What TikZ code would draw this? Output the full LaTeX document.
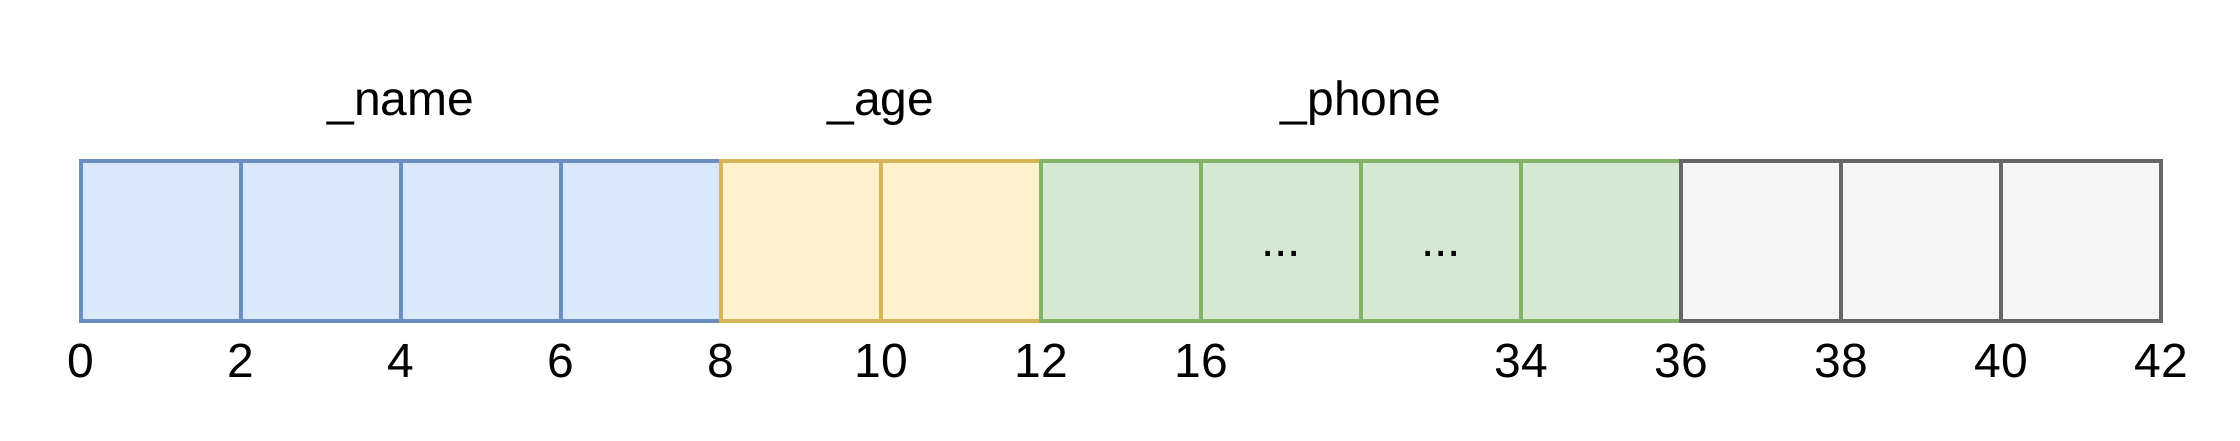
\documentclass[tikz,border=0pt]{standalone}
\usepackage{fontspec}
\setmainfont{Liberation Sans}
\definecolor{bfill}{HTML}{DAE8FC}\definecolor{bline}{HTML}{6C8EBF}
\definecolor{yfill}{HTML}{FFF2CC}\definecolor{yline}{HTML}{D6B656}
\definecolor{gfill}{HTML}{D5E8D4}\definecolor{gline}{HTML}{82B366}
\definecolor{kfill}{HTML}{F5F5F5}\definecolor{kline}{HTML}{666666}
\begin{document}
\begin{tikzpicture}[x=0.5pt,y=-0.5pt,
  cell/.style={draw, line width=2pt, minimum width=80pt, minimum height=80pt,
    inner sep=0pt, outer sep=0pt, font=\fontsize{24}{28}\selectfont},
  bluecell/.style={cell, fill=bfill, draw=bline},
  yellowcell/.style={cell, fill=yfill, draw=yline},
  greencell/.style={cell, fill=gfill, draw=gline},
  greycell/.style={cell, fill=kfill, draw=kline},
  lbl/.style={anchor=base, inner sep=0pt, font=\fontsize{24}{28}\selectfont}]
\useasboundingbox (0,0) rectangle (2240,440);
% cells
\node[bluecell]   (c0)  at (161,241) {};
\node[bluecell]   (c1)  at (321,241) {};
\node[bluecell]   (c2)  at (481,241) {};
\node[bluecell]   (c3)  at (641,241) {};
\node[yellowcell] (c4)  at (801,241) {};
\node[yellowcell] (c5)  at (961,241) {};
\node[greencell]  (c6)  at (1121,241) {};
\node[greencell]  (c7)  at (1281,241) {};
\node[greencell]  (c8)  at (1441,241) {};
\node[greencell]  (c9)  at (1601,241) {};
\node[greycell]   (c10) at (1761,241) {};
\node[greycell]   (c11) at (1921,241) {};
\node[greycell]   (c12) at (2081,241) {};
% dots
\node[lbl] (d7) at (1281,256) {...};
\node[lbl] (d8) at (1441,256) {...};
% field labels
\node[lbl] (fname)  at (401,115)  {\_name};
\node[lbl] (fage)   at (881,115)  {\_age};
\node[lbl] (fphone) at (1361,115) {\_phone};
% offsets
\node[lbl] (n0)  at (81,377)   {0};
\node[lbl] (n2)  at (241,377)  {2};
\node[lbl] (n4)  at (401,377)  {4};
\node[lbl] (n6)  at (561,377)  {6};
\node[lbl] (n8)  at (721,377)  {8};
\node[lbl] (n10) at (881,377)  {10};
\node[lbl] (n12) at (1041,377) {12};
\node[lbl] (n16) at (1201,377) {16};
\node[lbl] (n34) at (1521,377) {34};
\node[lbl] (n36) at (1681,377) {36};
\node[lbl] (n38) at (1841,377) {38};
\node[lbl] (n40) at (2001,377) {40};
\node[lbl] (n42) at (2161,377) {42};
\end{tikzpicture}
\end{document}
